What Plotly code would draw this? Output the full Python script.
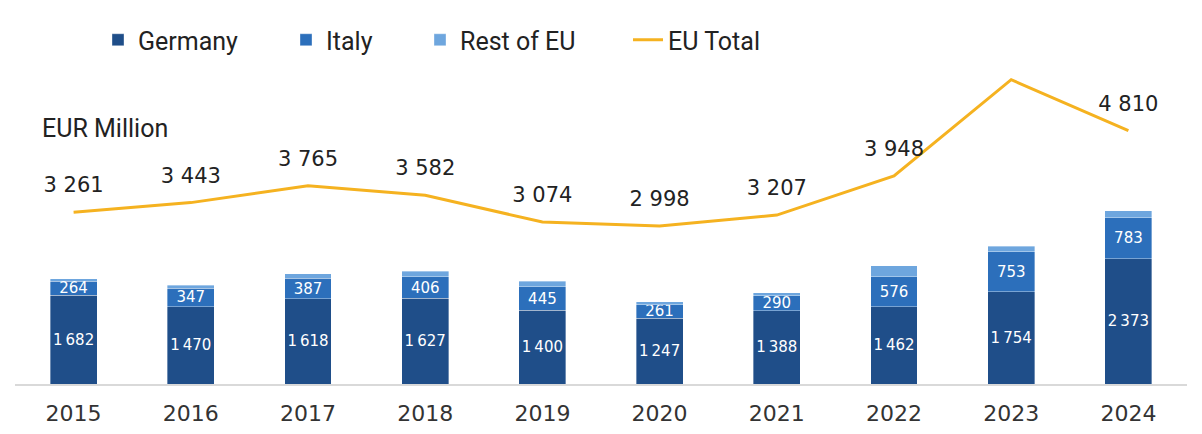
import plotly.graph_objects as go

years = ["2015", "2016", "2017", "2018", "2019", "2020", "2021", "2022", "2023", "2024"]
germany = [1682, 1470, 1618, 1627, 1400, 1247, 1388, 1462, 1754, 2373]
italy = [264, 347, 387, 406, 445, 261, 290, 576, 753, 783]
rest_eu = [55, 60, 90, 110, 110, 50, 55, 210, 110, 130]
eu_total = [3261, 3443, 3765, 3582, 3074, 2998, 3207, 3948, 5776, 4810]


def fmt(v):
    return f"{v:,}".replace(",", "\u2009")


def fmt_sp(v):
    return f"{v:,}".replace(",", " ")


C_DE = "#1f4e89"
C_IT = "#2c6fbb"
C_RE = "#6ea6de"
C_TOT = "#f5b220"

NARROW = "Liberation Sans Narrow, Roboto, sans-serif"
BASE = "DejaVu Sans, sans-serif"

# page offset of the figure (browser body margin)
OFF = 8
W, H = 1202 - OFF, 434 - OFF
PL, PR, PT, PB = 15 - OFF, 15, 60 - OFF, 50
PW = W - PL - PR
PH = H - PT - PB

fig = go.Figure()
edge = dict(width=0.8, color="rgba(255,255,255,0.45)")
fig.add_trace(go.Bar(
    x=years, y=germany, name="Germany", marker=dict(color=C_DE, line=edge),
    text=[fmt(v) for v in germany], textposition="inside", insidetextanchor="middle",
    textangle=0,
    textfont=dict(color="white", size=15, family=BASE), legend="legend",
))
fig.add_trace(go.Bar(
    x=years, y=italy, name="Italy", marker=dict(color=C_IT, line=edge),
    text=[fmt(v) for v in italy], textposition="inside", insidetextanchor="middle",
    textangle=0,
    textfont=dict(color="white", size=15, family=BASE), legend="legend2",
))
fig.add_trace(go.Bar(
    x=years, y=rest_eu, name="Rest of EU", marker=dict(color=C_RE, line=edge),
    legend="legend3",
))
fig.add_trace(go.Scatter(
    x=years, y=eu_total, name="EU Total", mode="lines+markers+text",
    line=dict(color=C_TOT, width=3),
    marker=dict(size=22, color="rgba(0,0,0,0)"),
    text=[fmt_sp(v) for v in eu_total], textposition="top center",
    textfont=dict(color="#222222", size=21, family=BASE),
    legend="legend4",
))


def px_x(page_x):
    return (page_x - OFF - PL) / PW


def px_y(page_y):
    return (H - PB - (page_y - OFF)) / PH


fig.add_annotation(text="EUR Million", xref="paper", yref="paper",
                   x=px_x(40), y=px_y(128), xanchor="left", yanchor="middle",
                   showarrow=False, font=dict(size=25, color="#222222", family=NARROW))

leg_common = dict(orientation="h", yanchor="middle", y=px_y(40), xanchor="left",
                  font=dict(size=25, color="#222222", family=NARROW),
                  bgcolor="rgba(0,0,0,0)", itemclick=False)

fig.update_layout(
    width=W, height=H,
    margin=dict(l=PL, r=PR, t=PT, b=PB, autoexpand=False),
    paper_bgcolor="white", plot_bgcolor="white",
    barmode="stack", bargap=0.6,
    uniformtext=dict(minsize=15, mode="show"),
    showlegend=True,
    legend=dict(**leg_common, x=px_x(98)),
    legend2=dict(**leg_common, x=px_x(286)),
    legend3=dict(**leg_common, x=px_x(420)),
    legend4=dict(**leg_common, x=px_x(628)),
    xaxis=dict(type="category", showline=True, linecolor="#d9d9d9", linewidth=1.5,
               showgrid=False, zeroline=False, ticks="", ticklabelstandoff=9,
               tickfont=dict(size=22, color="#333333", family=BASE), range=[-0.5, 9.5]),
    yaxis=dict(visible=False, range=[0, 6150], fixedrange=True),
)

fig.write_html("out.html")
